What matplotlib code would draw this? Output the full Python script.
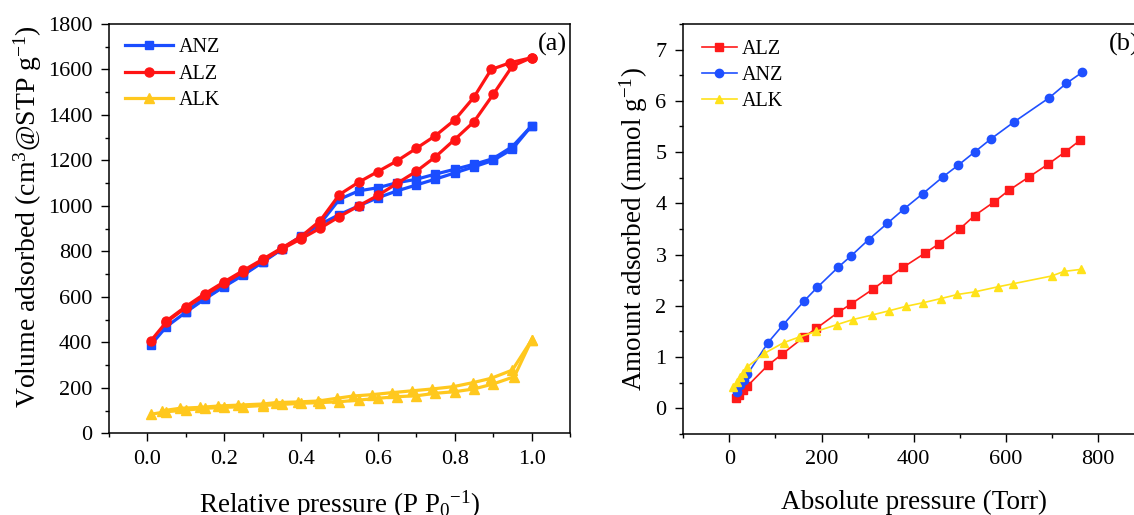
import matplotlib
matplotlib.use("Agg")
import matplotlib.pyplot as plt
from matplotlib.ticker import MultipleLocator

plt.rcParams["font.family"] = ["Liberation Serif", "DejaVu Serif"]
plt.rcParams["mathtext.fontset"] = "custom"
plt.rcParams["mathtext.rm"] = "Liberation Serif"
plt.rcParams["mathtext.it"] = "Liberation Serif:italic"
plt.rcParams["mathtext.bf"] = "Liberation Serif:bold"

# ── (a) N2 isotherms: adsorption + desorption branches ───────────────────────
anz_ads_p = [0.01, 0.05, 0.10, 0.15, 0.20, 0.25, 0.30, 0.35, 0.40, 0.45,
             0.50, 0.55, 0.60, 0.65, 0.70, 0.75, 0.80, 0.85, 0.90, 0.95, 1.00]
anz_ads_v = [390, 469, 532, 591, 645, 696, 752, 809, 865, 919,
             962, 1000, 1036, 1066, 1092, 1118, 1145, 1172, 1200, 1250, 1352]
anz_des_p = [1.00, 0.95, 0.90, 0.85, 0.80, 0.75, 0.70, 0.65, 0.60, 0.55,
             0.50, 0.45, 0.40, 0.35, 0.30, 0.25, 0.20, 0.15, 0.10]
anz_des_v = [1352, 1261, 1208, 1183, 1161, 1140, 1117, 1102, 1080, 1066,
             1029, 922, 866, 811, 755, 699, 648, 594, 535]

alz_ads_p = [0.01, 0.05, 0.10, 0.15, 0.20, 0.25, 0.30, 0.35, 0.40, 0.45,
             0.50, 0.55, 0.60, 0.65, 0.70, 0.75, 0.80, 0.85, 0.90, 0.95, 1.00]
alz_ads_v = [408, 490, 552, 607, 660, 710, 760, 810, 855, 902,
             953, 1000, 1046, 1099, 1152, 1216, 1292, 1370, 1490, 1615, 1652]
alz_des_p = [1.00, 0.945, 0.895, 0.85, 0.80, 0.75, 0.70, 0.65, 0.60, 0.55,
             0.50, 0.45, 0.40, 0.35, 0.30, 0.25, 0.20, 0.15, 0.10, 0.05]
alz_des_v = [1652, 1630, 1600, 1478, 1378, 1309, 1253, 1198, 1151, 1104,
             1050, 935, 865, 815, 765, 716, 666, 614, 557, 494]

alk_ads_p = [0.01, 0.05, 0.10, 0.15, 0.20, 0.25, 0.30, 0.35, 0.40, 0.45,
             0.50, 0.55, 0.60, 0.65, 0.70, 0.75, 0.80, 0.85, 0.90, 0.955, 1.00]
alk_ads_v = [84, 95, 102, 110, 114, 117, 122, 127, 132, 135,
             139, 146, 154, 161, 165, 176, 183, 195, 217, 249, 410]
alk_des_p = [1.00, 0.95, 0.895, 0.848, 0.796, 0.742, 0.69, 0.638, 0.585, 0.536,
             0.493, 0.445, 0.393, 0.334, 0.302, 0.237, 0.185, 0.137, 0.085, 0.039]
alk_des_v = [410, 278, 242, 223, 205, 195, 187, 179, 170, 164,
             154, 142, 138, 135, 129, 124, 120, 114, 110, 99]

# ── (b) CO2 uptake vs absolute pressure ──────────────────────────────────────
alz_torr = [14, 22, 30, 39, 84, 114, 162, 189, 236, 265, 311, 341, 377, 425,
            455, 500, 532, 575, 606, 651, 691, 728, 761]
alz_mmol = [0.19, 0.25, 0.35, 0.43, 0.84, 1.05, 1.39, 1.56, 1.87, 2.04, 2.32,
            2.52, 2.75, 3.03, 3.21, 3.50, 3.76, 4.03, 4.25, 4.52, 4.76, 5.00, 5.23]

anz_torr = [16, 23, 32, 39, 84, 117, 162, 191, 236, 265, 302, 343, 379, 420,
            464, 496, 532, 568, 618, 694, 731, 766]
anz_mmol = [0.32, 0.45, 0.55, 0.66, 1.28, 1.63, 2.09, 2.36, 2.75, 2.98, 3.29,
            3.61, 3.89, 4.19, 4.52, 4.74, 5.00, 5.26, 5.59, 6.06, 6.34, 6.56]

alk_torr = [9, 16, 23, 30, 38, 76, 118, 152, 189, 233, 268, 310, 346, 384,
            421, 459, 495, 532, 583, 616, 699, 726, 763]
alk_mmol = [0.42, 0.51, 0.60, 0.68, 0.80, 1.07, 1.28, 1.39, 1.50, 1.63, 1.73,
            1.82, 1.90, 1.99, 2.06, 2.14, 2.22, 2.27, 2.37, 2.43, 2.58, 2.67, 2.71]

BLUE_A, RED_A, GOLD_A = "#1A4DFF", "#FF1414", "#FFC81E"
BLUE_B, RED_B, YEL_B = "#1F50FF", "#FF1A1A", "#FFE21A"

W, H = 1134, 515
fig = plt.figure(figsize=(W / 100, H / 100), dpi=100)

# panel (b) runs past the right edge of the canvas
ax_a = fig.add_axes([108.8 / W, (H - 433.3) / H, 461.2 / W, 409.3 / H])
ax_b = fig.add_axes([683.2 / W, (H - 433.8) / H, 461.0 / W, 409.8 / H])


def style_axes(ax):
    for sp in ax.spines.values():
        sp.set_linewidth(1.1)
    ax.tick_params(which="both", direction="out", top=False, right=False,
                   labelsize=16, width=1.0, pad=6)
    ax.tick_params(which="major", length=6)
    ax.tick_params(which="minor", length=3)


# ── panel (a) ────────────────────────────────────────────────────────────────
kw_a = dict(lw=2.3)
ax_a.plot(anz_ads_p, anz_ads_v, "-s", color=BLUE_A, ms=5.5, label="ANZ", **kw_a)
ax_a.plot(anz_des_p, anz_des_v, "-s", color=BLUE_A, ms=5.5, **kw_a)
ax_a.plot(alz_ads_p, alz_ads_v, "-o", color=RED_A, ms=6.5, label="ALZ", **kw_a)
ax_a.plot(alz_des_p, alz_des_v, "-o", color=RED_A, ms=6.5, **kw_a)
ax_a.plot(alk_ads_p, alk_ads_v, "-^", color=GOLD_A, ms=7, label="ALK", **kw_a)
ax_a.plot(alk_des_p, alk_des_v, "-^", color=GOLD_A, ms=7, **kw_a)

ax_a.set_xlim(-0.1, 1.1)
ax_a.set_ylim(0, 1800)
ax_a.xaxis.set_minor_locator(MultipleLocator(0.1))
ax_a.yaxis.set_major_locator(MultipleLocator(200))
ax_a.yaxis.set_minor_locator(MultipleLocator(100))
ax_a.set_xticks([0.0, 0.2, 0.4, 0.6, 0.8, 1.0])
ax_a.set_xticklabels(["0.0", "0.2", "0.4", "0.6", "0.8", "1.0"])
style_axes(ax_a)

ax_a.set_xlabel("Relative pressure (P P$_0$$^{-1}$)", fontsize=19.5, va="top")
ax_a.set_ylabel("Volume adsorbed (cm$^3$@STP g$^{-1}$)", fontsize=20)
ax_a.xaxis.set_label_coords(0.5, -0.134)
ax_a.yaxis.set_label_coords(-0.141, 0.53)
ax_a.legend(loc="upper left", bbox_to_anchor=(0.035, 0.965), frameon=False,
            fontsize=14.5, handlelength=2.4, handletextpad=0.25,
            labelspacing=0.35, borderpad=0, borderaxespad=0)
ax_a.text(0.994, 0.949, "(a)", transform=ax_a.transAxes, fontsize=19,
          ha="right", va="center")

# ── panel (b) ────────────────────────────────────────────────────────────────
kw_b = dict(lw=1.2, ms=6)
ax_b.plot(alz_torr, alz_mmol, "-s", color=RED_B, label="ALZ", **kw_b)
ax_b.plot(anz_torr, anz_mmol, "-o", color=BLUE_B, label="ANZ", **kw_b)
ax_b.plot(alk_torr, alk_mmol, "-^", color=YEL_B, label="ALK", **kw_b)

ax_b.set_xlim(-100, 900)
ax_b.set_ylim(-0.5, 7.5)
ax_b.set_xticks([0, 200, 400, 600, 800])
ax_b.xaxis.set_minor_locator(MultipleLocator(100))
ax_b.set_yticks([0, 1, 2, 3, 4, 5, 6, 7])
ax_b.yaxis.set_minor_locator(MultipleLocator(0.5))
style_axes(ax_b)

ax_b.set_xlabel("Absolute pressure (Torr)", fontsize=19.5, va="top")
ax_b.set_ylabel("Amount adsorbed (mmol g$^{-1}$)", fontsize=19.5)
ax_b.xaxis.set_label_coords(0.5, -0.137)
ax_b.yaxis.set_label_coords(-0.072, 0.5)
ax_b.legend(loc="upper left", bbox_to_anchor=(0.040, 0.962), frameon=False,
            fontsize=14.5, handlelength=1.75, handletextpad=0.25,
            labelspacing=0.35, borderpad=0, borderaxespad=0)
ax_b.text(0.924, 0.949, "(b)", transform=ax_b.transAxes, fontsize=19,
          ha="left", va="center")

fig.savefig("out.png", dpi=100)
